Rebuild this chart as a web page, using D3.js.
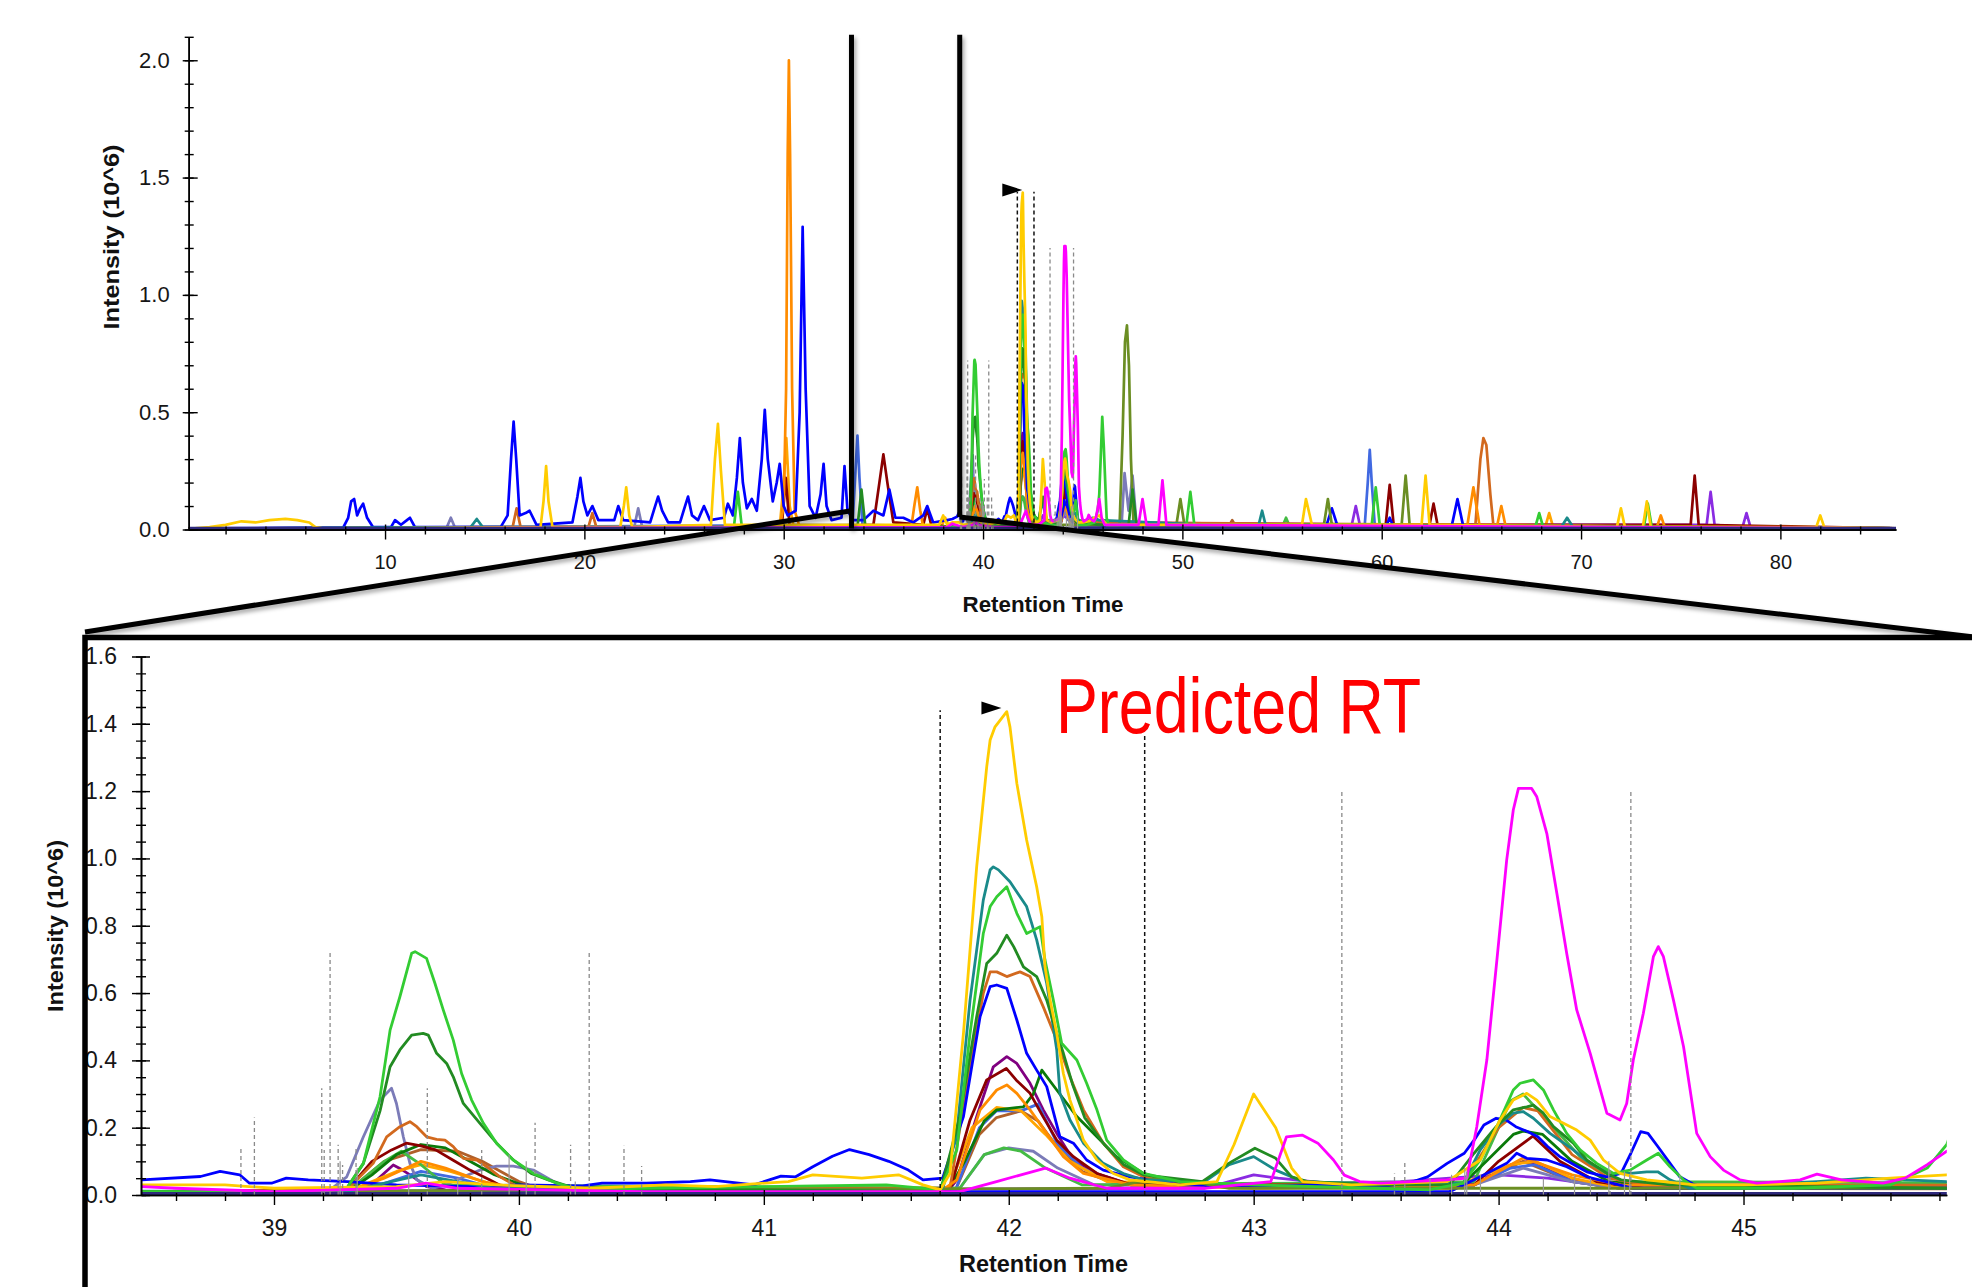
<!DOCTYPE html>
<html>
<head>
<meta charset="utf-8">
<title>Retention Time</title>
<script src="https://cdn.jsdelivr.net/npm/d3@7"></script>
<style>
  html, body { margin: 0; padding: 0; background: #ffffff; }
  svg { display: block; }
  text { font-family: "Liberation Sans", Arial, Helvetica, sans-serif; }
</style>
</head>
<body>
<svg id="chart" width="1972" height="1287"></svg>
<script>
// ---------- extracted ion chromatograms: [retention time (min), intensity (10^6)] ----------
const baselineTrace = [[0.15, 0.003], [85.8, 0.003]];

const blueTrace = [[0.15,0.005],[7.9,0.008],[8.15,0.05],[8.3,0.12],[8.45,0.13],[8.6,0.06],[8.75,0.09],[8.9,0.11],[9.1,0.05],[9.4,0.01],[10.3,0.01],[10.5,0.04],[10.8,0.02],[11.1,0.04],[11.25,0.05],[11.5,0.01],[15.8,0.01],[16.15,0.06],[16.32,0.3],[16.45,0.46],[16.58,0.3],[16.75,0.06],[17.05,0.07],[17.25,0.08],[17.6,0.02],[19.4,0.03],[19.65,0.14],[19.8,0.22],[19.95,0.12],[20.15,0.06],[20.4,0.10],[20.7,0.04],[21.5,0.04],[21.7,0.10],[21.95,0.04],[23.3,0.03],[23.55,0.1],[23.7,0.14],[23.9,0.08],[24.2,0.03],[24.8,0.03],[25.05,0.1],[25.2,0.14],[25.4,0.06],[25.7,0.04],[26.0,0.10],[26.3,0.04],[27.0,0.05],[27.2,0.11],[27.45,0.06],[27.65,0.22],[27.8,0.39],[27.95,0.2],[28.15,0.09],[28.4,0.13],[28.65,0.08],[28.9,0.3],[29.05,0.51],[29.2,0.3],[29.45,0.12],[29.65,0.2],[29.8,0.28],[30.0,0.1],[30.2,0.06],[30.6,0.08],[30.8,0.5],[30.95,1.29],[31.1,0.6],[31.3,0.1],[31.6,0.05],[31.85,0.15],[32.0,0.28],[32.15,0.1],[32.4,0.04],[32.9,0.05],[33.05,0.27],[33.2,0.08],[33.5,0.04],[34.0,0.04],[34.5,0.08],[35.0,0.06],[35.3,0.17],[35.6,0.05],[36.0,0.05],[36.5,0.03],[37.0,0.06],[37.2,0.10],[37.5,0.03],[38.2,0.04],
  [38.46,0.045],[38.7,0.055],[38.78,0.07],[38.86,0.06],[38.9,0.035],[38.99,0.035],[39.05,0.05],[39.14,0.045],[39.3,0.04],[39.5,0.03],[39.8,0.025],[40.0,0.03],[40.26,0.027],[40.34,0.035],[40.52,0.035],[40.7,0.04],[40.78,0.045],[40.96,0.03],[41.07,0.056],[41.13,0.054],[41.2,0.084],[41.28,0.115],[41.35,0.135],[41.43,0.12],[41.51,0.10],[41.59,0.074],[41.65,0.045],[41.73,0.05],[41.815,0.233],[41.883,0.53],[41.924,0.619],[41.951,0.624],[41.992,0.614],[42.033,0.52],[42.073,0.421],[42.114,0.371],[42.155,0.322],[42.209,0.173],[42.264,0.154],[42.318,0.104],[42.386,0.074],[42.495,0.054],[42.7,0.03],[43.0,0.025],[43.3,0.03],[43.52,0.025],[43.63,0.035],[43.71,0.054],[43.79,0.094],[43.86,0.124],[43.9,0.163],[43.94,0.208],[43.99,0.228],[44.03,0.223],[44.07,0.203],[44.12,0.188],[44.16,0.173],[44.2,0.144],[44.25,0.114],[44.31,0.089],[44.36,0.069],[44.44,0.054],[44.5,0.064],[44.54,0.124],[44.58,0.188],[44.61,0.183],[44.65,0.144],[44.7,0.094],[44.74,0.054],[44.8,0.03],[44.88,0.02],[45.83,0.02],
  [46.5,0.01],[57.2,0.01],[57.5,0.09],[57.8,0.01],[60.2,0.01],[60.4,0.05],[60.6,0.01],[63.5,0.01],[63.8,0.13],[64.1,0.01],[85.8,0.005]];

const blue2Trace = [[0.15,0.003],[43.8,0.01],[43.925,0.054],[44.033,0.094],[44.074,0.124],[44.115,0.109],[44.197,0.104],[44.278,0.084],[44.36,0.054],[44.55,0.02],[85.8,0.003]];

const goldTrace = [[0.15,0.003],[1.2,0.01],[2.0,0.02],[2.8,0.035],[3.5,0.03],[4.2,0.04],[5.0,0.045],[5.6,0.04],[6.2,0.03],[6.5,0.01],[7.0,0.003],[17.8,0.01],[17.95,0.12],[18.08,0.27],[18.2,0.12],[18.4,0.01],[21.8,0.01],[21.98,0.1],[22.1,0.18],[22.25,0.06],[22.4,0.01],[26.35,0.02],[26.55,0.3],[26.7,0.45],[26.85,0.25],[27.05,0.02],[36.0,0.02],[37.8,0.02],[38.0,0.06],[38.2,0.02],
  [38.46,0.03],[38.8,0.03],[39.0,0.02],[39.5,0.025],[39.7,0.04],[39.9,0.03],[40.3,0.02],[40.6,0.03],[40.8,0.025],[41.1,0.04],[41.2,0.06],[41.4,0.05],[41.55,0.06],[41.65,0.03],[41.72,0.015],[41.76,0.064],[41.815,0.48],[41.869,0.975],[41.91,1.272],[41.924,1.352],[41.944,1.391],[41.992,1.436],[42.005,1.391],[42.033,1.223],[42.073,1.055],[42.114,0.916],[42.135,0.827],[42.148,0.678],[42.169,0.579],[42.196,0.48],[42.223,0.361],[42.25,0.282],[42.278,0.223],[42.305,0.163],[42.36,0.104],[42.427,0.064],[42.495,0.045],[42.7,0.03],[42.85,0.04],[42.92,0.15],[43.0,0.30],[43.09,0.2],[43.155,0.08],[43.2,0.04],[43.4,0.03],[43.6,0.035],[43.79,0.04],[43.925,0.104],[44.006,0.223],[44.06,0.282],[44.115,0.302],[44.156,0.282],[44.21,0.233],[44.265,0.213],[44.319,0.193],[44.374,0.163],[44.428,0.104],[44.496,0.064],[44.605,0.045],[44.8,0.03],[45.0,0.03],[45.3,0.035],[45.6,0.05],[45.83,0.06],
  [46.2,0.02],[48.0,0.02],[56.0,0.02],[56.2,0.13],[56.5,0.02],[62.0,0.02],[62.2,0.23],[62.4,0.02],[71.8,0.01],[72.0,0.09],[72.2,0.01],[73.1,0.01],[73.3,0.12],[73.5,0.01],[81.8,0.01],[82.0,0.06],[82.2,0.01],[85.8,0.005]];

const darkorangeTrace = [[0.15,0.003],[29.8,0.01],[30.0,0.1],[30.12,0.6],[30.2,1.6],[30.26,2.0],[30.32,1.6],[30.42,0.6],[30.55,0.08],[30.8,0.01],[36.4,0.01],[36.55,0.1],[36.7,0.18],[36.85,0.08],[37.0,0.01],
  [38.46,0.01],[39.3,0.01],[39.45,0.05],[39.6,0.1],[39.7,0.08],[39.85,0.04],[40.0,0.02],[41.72,0.01],[41.788,0.045],[41.883,0.253],[41.951,0.312],[41.992,0.327],[42.033,0.302],[42.087,0.253],[42.155,0.183],[42.223,0.114],[42.305,0.064],[42.5,0.03],[43.0,0.02],[43.9,0.03],[44.1,0.11],[44.3,0.06],[44.5,0.03],[45.83,0.02],
  [46.0,0.02],[64.3,0.02],[64.6,0.18],[64.9,0.02],[65.8,0.02],[66.0,0.10],[66.2,0.02],[73.8,0.01],[74.0,0.06],[74.2,0.01],[85.8,0.005]];

const orangeTrace = [[0.15,0.003],[29.8,0.01],[30.0,0.2],[30.13,0.39],[30.3,0.1],[30.5,0.01],[37.9,0.01],[38.1,0.05],[38.3,0.01],
  [38.46,0.01],[39.3,0.01],[39.5,0.07],[39.6,0.09],[39.72,0.07],[39.9,0.03],[40.1,0.015],[41.75,0.01],[41.85,0.2],[41.95,0.26],[42.05,0.25],[42.15,0.18],[42.25,0.1],[42.4,0.04],[43.8,0.02],[44.05,0.09],[44.15,0.1],[44.3,0.05],[44.5,0.02],[45.83,0.02],
  [68.2,0.01],[68.4,0.07],[68.6,0.01],[85.8,0.005]];

const magentaTrace = [[0.15,0.003],[38.2,0.01],[38.46,0.025],[38.6,0.02],[39.0,0.01],[39.5,0.02],[39.62,0.035],[39.75,0.02],[40.5,0.01],[41.8,0.01],[41.95,0.04],[42.05,0.06],[42.15,0.08],[42.25,0.05],[42.4,0.02],[42.8,0.02],[43.07,0.04],[43.134,0.173],[43.198,0.178],[43.262,0.154],[43.326,0.104],[43.37,0.059],[43.433,0.04],[43.52,0.035],[43.652,0.04],[43.788,0.045],[43.87,0.05],[43.911,0.203],[43.952,0.401],[43.993,0.698],[44.033,0.995],[44.06,1.144],[44.081,1.208],[44.135,1.208],[44.156,1.183],[44.197,1.074],[44.238,0.896],[44.278,0.718],[44.319,0.55],[44.374,0.421],[44.442,0.243],[44.496,0.223],[44.523,0.272],[44.55,0.401],[44.591,0.54],[44.632,0.708],[44.652,0.738],[44.673,0.708],[44.714,0.579],[44.755,0.441],[44.809,0.183],[44.864,0.114],[44.918,0.074],[44.986,0.045],[45.054,0.035],[45.149,0.04],[45.231,0.045],[45.3,0.062],[45.4,0.045],[45.57,0.035],[45.66,0.05],[45.75,0.09],[45.83,0.13],[45.95,0.05],[46.1,0.02],[47.8,0.02],[48.0,0.13],[48.2,0.02],[48.8,0.02],[49.0,0.21],[49.2,0.02],[85.8,0.005]];

const limeTrace = [[0.15,0.003],[27.5,0.01],[27.7,0.16],[27.9,0.01],[38.46,0.01],[39.2,0.01],[39.297,0.02],[39.365,0.094],[39.433,0.292],[39.474,0.49],[39.514,0.589],[39.562,0.718],[39.576,0.723],[39.623,0.703],[39.657,0.629],[39.691,0.55],[39.732,0.46],[39.766,0.361],[39.807,0.282],[39.855,0.213],[39.909,0.154],[39.977,0.104],[40.059,0.064],[40.154,0.035],[40.25,0.015],[40.5,0.02],[41.0,0.025],[41.5,0.03],[41.72,0.015],[41.788,0.134],[41.842,0.48],[41.896,0.777],[41.924,0.857],[41.951,0.886],[41.992,0.916],[42.033,0.837],[42.073,0.777],[42.128,0.797],[42.148,0.698],[42.182,0.579],[42.216,0.451],[42.278,0.401],[42.318,0.332],[42.36,0.253],[42.4,0.163],[42.468,0.104],[42.55,0.064],[42.7,0.04],[43.0,0.03],[43.5,0.02],[43.714,0.015],[43.856,0.035],[43.925,0.104],[43.993,0.203],[44.06,0.312],[44.088,0.332],[44.142,0.342],[44.183,0.312],[44.224,0.253],[44.278,0.183],[44.333,0.134],[44.401,0.094],[44.469,0.064],[44.537,0.074],[44.605,0.104],[44.652,0.124],[44.7,0.084],[44.755,0.045],[44.809,0.02],[45.2,0.02],[45.6,0.03],[45.75,0.08],[45.83,0.15],[45.9,0.3],[45.98,0.48],[46.06,0.35],[46.2,0.05],[46.3,0.02],[50.2,0.02],[50.4,0.16],[50.6,0.02],[59.5,0.02],[59.7,0.18],[59.9,0.02],[67.7,0.01],[67.9,0.07],[68.1,0.01],[73.15,0.01],[73.35,0.11],[73.55,0.01],[85.8,0.005]];

const greenTrace = [[0.15,0.003],[33.7,0.01],[33.9,0.17],[34.1,0.01],[38.46,0.01],[39.2,0.01],[39.297,0.02],[39.365,0.094],[39.433,0.25],[39.474,0.381],[39.514,0.431],[39.562,0.475],[39.609,0.48],[39.63,0.475],[39.664,0.421],[39.705,0.391],[39.732,0.351],[39.773,0.272],[39.841,0.213],[39.909,0.154],[39.977,0.104],[40.05,0.064],[40.12,0.045],[40.23,0.02],[41.72,0.01],[41.8,0.233],[41.869,0.53],[41.91,0.688],[41.951,0.718],[41.992,0.772],[42.02,0.738],[42.06,0.678],[42.114,0.649],[42.155,0.579],[42.196,0.48],[42.223,0.421],[42.26,0.33],[42.31,0.23],[42.39,0.15],[42.47,0.09],[42.55,0.06],[42.79,0.04],[42.898,0.094],[43.005,0.139],[43.09,0.109],[43.155,0.054],[43.22,0.04],[43.5,0.03],[43.8,0.03],[43.9,0.124],[43.99,0.203],[44.06,0.253],[44.115,0.262],[44.142,0.267],[44.183,0.243],[44.224,0.203],[44.305,0.154],[44.36,0.104],[44.442,0.064],[44.5,0.045],[44.7,0.03],[45.83,0.02],[47.3,0.02],[47.5,0.17],[47.7,0.02],[85.8,0.005]];

const green2Trace = [[0.15,0.003],[38.46,0.01],[39.3,0.01],[39.4,0.06],[39.5,0.12],[39.6,0.15],[39.7,0.14],[39.8,0.1],[39.9,0.06],[40.05,0.02],[41.75,0.01],[41.82,0.1],[41.9,0.22],[41.951,0.253],[42.06,0.262],[42.1,0.3],[42.135,0.371],[42.196,0.312],[42.278,0.233],[42.36,0.173],[42.44,0.114],[42.55,0.064],[42.7,0.03],[43.85,0.03],[43.95,0.1],[44.06,0.18],[44.1,0.19],[44.18,0.18],[44.3,0.1],[44.45,0.04],[44.6,0.03],[45.83,0.02],[85.8,0.005]];

const tealTrace = [[0.15,0.003],[14.3,0.01],[14.6,0.045],[14.9,0.01],[38.46,0.01],[39.3,0.01],[39.6,0.06],[39.9,0.02],[41.72,0.01],[41.733,0.025],[41.788,0.183],[41.842,0.579],[41.896,0.876],[41.924,0.966],[41.937,0.975],[41.958,0.966],[42.005,0.931],[42.073,0.857],[42.114,0.758],[42.155,0.629],[42.196,0.431],[42.209,0.302],[42.25,0.223],[42.305,0.154],[42.386,0.094],[42.468,0.064],[42.55,0.045],[42.8,0.04],[42.9,0.09],[43.0,0.114],[43.09,0.074],[43.2,0.04],[43.6,0.03],[43.856,0.035],[43.925,0.134],[44.006,0.213],[44.06,0.243],[44.1,0.248],[44.142,0.228],[44.21,0.183],[44.305,0.134],[44.374,0.094],[44.455,0.064],[44.537,0.064],[44.605,0.069],[44.65,0.069],[44.7,0.045],[44.78,0.02],[45.3,0.04],[45.5,0.05],[45.83,0.04],[53.8,0.01],[54.0,0.08],[54.2,0.01],[69.0,0.01],[69.3,0.05],[69.6,0.01],[85.8,0.005]];

const oliveTrace = [[0.15,0.003],[38.46,0.01],[42.4,0.02],[42.6,0.05],[42.75,0.04],[42.9,0.02],[45.83,0.02],[46.85,0.02],[47.0,0.4],[47.12,0.8],[47.22,0.87],[47.32,0.7],[47.42,0.3],[47.55,0.02],[49.7,0.02],[49.9,0.13],[50.1,0.02],[57.1,0.02],[57.3,0.13],[57.5,0.02],[61.0,0.02],[61.2,0.23],[61.4,0.02],[85.8,0.005]];

const maroonTrace = [[0.15,0.003],[29.9,0.01],[30.1,0.22],[30.3,0.01],[34.5,0.02],[34.8,0.2],[35.0,0.32],[35.2,0.2],[35.5,0.03],[37.0,0.02],[37.2,0.09],[37.4,0.02],[38.46,0.01],[39.3,0.015],[39.4,0.1],[39.48,0.134],[39.54,0.154],[39.6,0.146],[39.66,0.134],[39.73,0.104],[39.8,0.074],[39.88,0.045],[39.96,0.015],[41.76,0.015],[41.842,0.223],[41.91,0.342],[41.99,0.376],[42.03,0.342],[42.087,0.302],[42.14,0.233],[42.196,0.163],[42.264,0.114],[42.36,0.064],[42.5,0.03],[43.9,0.03],[44.0,0.1],[44.14,0.175],[44.25,0.1],[44.4,0.04],[44.6,0.02],[60.2,0.02],[60.4,0.19],[60.6,0.02],[62.4,0.02],[62.6,0.11],[62.8,0.02],[75.5,0.02],[75.7,0.23],[75.9,0.02],[85.8,0.005]];

const chocolateTrace = [[0.15,0.003],[16.4,0.01],[16.6,0.09],[16.8,0.01],[20.2,0.01],[20.4,0.07],[20.6,0.01],[38.46,0.01],[39.297,0.015],[39.405,0.094],[39.46,0.173],[39.514,0.203],[39.555,0.218],[39.583,0.203],[39.623,0.173],[39.664,0.165],[39.698,0.163],[39.732,0.144],[39.773,0.109],[39.828,0.104],[39.869,0.084],[39.923,0.054],[40.005,0.02],[41.76,0.02],[41.842,0.381],[41.896,0.599],[41.924,0.663],[41.951,0.663],[41.992,0.649],[42.046,0.663],[42.087,0.649],[42.141,0.559],[42.196,0.46],[42.25,0.351],[42.305,0.253],[42.386,0.154],[42.468,0.084],[42.55,0.054],[42.7,0.03],[43.85,0.03],[44.0,0.2],[44.1,0.26],[44.16,0.25],[44.3,0.12],[44.45,0.05],[44.6,0.03],[64.7,0.02],[64.95,0.3],[65.1,0.39],[65.25,0.36],[65.45,0.15],[65.6,0.02],[85.8,0.005]];

const royalTrace = [[0.15,0.003],[33.45,0.02],[33.6,0.25],[33.7,0.40],[33.8,0.22],[33.95,0.02],[39.35,0.01],[39.6,0.07],[39.75,0.05],[39.9,0.02],[41.78,0.01],[41.88,0.2],[41.95,0.25],[42.05,0.25],[42.12,0.27],[42.2,0.15],[42.3,0.08],[42.45,0.03],[43.9,0.03],[44.05,0.08],[44.15,0.09],[44.3,0.04],[44.5,0.02],[59.15,0.02],[59.3,0.2],[59.4,0.34],[59.5,0.2],[59.65,0.02],[85.8,0.005]];

const slateTrace = [[0.15,0.003],[13.1,0.01],[13.3,0.05],[13.5,0.01],[22.5,0.01],[22.7,0.09],[22.9,0.01],[38.46,0.01],[39.229,0.015],[39.297,0.054],[39.365,0.173],[39.433,0.282],[39.48,0.317],[39.5,0.272],[39.528,0.173],[39.555,0.094],[39.583,0.045],[39.65,0.02],[39.7,0.03],[39.773,0.054],[39.841,0.074],[39.909,0.086],[39.977,0.086],[40.059,0.074],[40.154,0.035],[40.209,0.02],[41.8,0.02],[41.9,0.12],[42.0,0.14],[42.1,0.13],[42.2,0.08],[42.35,0.03],[43.9,0.03],[44.1,0.08],[44.3,0.04],[44.5,0.02],[46.95,0.02],[47.1,0.24],[47.3,0.08],[47.5,0.23],[47.7,0.02],[85.8,0.005]];

const purpleTrace = [[0.15,0.003],[38.46,0.01],[39.3,0.01],[39.405,0.035],[39.487,0.089],[39.514,0.079],[39.568,0.054],[39.623,0.025],[39.7,0.015],[41.75,0.01],[41.788,0.045],[41.869,0.233],[41.937,0.381],[41.992,0.411],[42.033,0.391],[42.087,0.332],[42.141,0.253],[42.196,0.183],[42.264,0.104],[42.36,0.064],[42.5,0.03],[43.9,0.03],[44.05,0.09],[44.12,0.1],[44.25,0.06],[44.4,0.03],[85.8,0.005]];

const violetTrace = [[0.15,0.003],[38.46,0.01],[42.8,0.02],[42.9,0.04],[43.0,0.06],[43.1,0.05],[43.3,0.035],[43.6,0.04],[43.8,0.05],[44.0,0.06],[44.2,0.05],[44.5,0.02],[58.5,0.02],[58.7,0.10],[58.9,0.02],[76.3,0.02],[76.5,0.16],[76.7,0.02],[78.1,0.01],[78.3,0.07],[78.5,0.01],[85.8,0.005]];

const siennaTrace = [[0.15,0.003],[38.46,0.01],[39.3,0.01],[39.45,0.1],[39.6,0.135],[39.75,0.13],[39.85,0.1],[40.0,0.04],[40.1,0.015],[41.78,0.01],[41.88,0.18],[41.95,0.23],[42.05,0.25],[42.12,0.22],[42.2,0.14],[42.3,0.07],[42.45,0.03],[43.9,0.03],[44.1,0.1],[44.3,0.04],[44.5,0.02],[52.3,0.01],[52.5,0.04],[52.7,0.01],[85.8,0.005]];

const lime2Trace = [[0.15,0.003],[38.46,0.01],[39.3,0.01],[39.45,0.1],[39.52,0.13],[39.6,0.09],[39.7,0.03],[41.8,0.02],[41.9,0.12],[41.98,0.14],[42.05,0.13],[42.15,0.08],[42.3,0.03],[43.9,0.04],[44.05,0.28],[44.1,0.30],[44.2,0.22],[44.35,0.1],[44.5,0.04],[55.0,0.01],[55.2,0.05],[55.4,0.01],[85.8,0.005]];

// ---------- scan / integration markers (retention time, height) ----------
const boundaryRT = [41.72, 42.555];
const boundaryTop = [1.44, 1.44];
const tallMarkRT = [39.229, 40.287, 43.36, 44.54];
const tallMarkTop = [0.72, 0.72, 1.2, 1.2];
const dashMarkRT = [38.865, 38.92, 39.195, 39.205, 39.262, 39.28, 39.335, 39.626, 39.848, 40.066, 40.211, 40.429, 40.501, 43.575, 43.617, 44.455];
const dashMarkTop = [0.137, 0.23, 0.317, 0.134, 0.149, 0.089, 0.144, 0.317, 0.134, 0.215, 0.149, 0.146, 0.086, 0.064, 0.104, 0.084];
const solidMarkRT = [39.27, 39.34, 39.55, 39.75, 39.96, 40.03, 40.23, 43.72, 43.808, 43.862, 43.87, 43.926, 44.183, 44.31, 44.375, 44.45, 44.514, 44.535, 44.74];
const solidMarkTop = [0.1, 0.08, 0.06, 0.05, 0.12, 0.1, 0.04, 0.05, 0.06, 0.08, 0.07, 0.06, 0.05, 0.06, 0.05, 0.1, 0.07, 0.06, 0.06];

const apexRT = 41.97;
const apexIntensity = 1.447;
const predictedRT = 42.652;
const predictedLineTop = 1.345;
const windowRT = [33.4, 38.83];
const windowLinkTop = [0.08, 0.053];

const overviewXTicks = [10, 20, 30, 40, 50, 60, 70, 80];
const overviewYTicks = [0, 0.5, 1.0, 1.5, 2.0];
const detailXTicks = [39, 40, 41, 42, 43, 44, 45];
const detailYTicks = [0, 0.2, 0.4, 0.6, 0.8, 1.0, 1.2, 1.4, 1.6];

const traces = [
  { points: baselineTrace, color: '#2f2a7c', under: true },
  { points: violetTrace, color: '#8a2be2' },
  { points: purpleTrace, color: '#800080' },
  { points: siennaTrace, color: '#b0602a' },
  { points: royalTrace, color: '#4169e1' },
  { points: slateTrace, color: '#7b7bb8' },
  { points: orangeTrace, color: '#ffa500' },
  { points: lime2Trace, color: '#44bb44' },
  { points: green2Trace, color: '#0a7a0a' },
  { points: maroonTrace, color: '#8b0000' },
  { points: chocolateTrace, color: '#d2691e' },
  { points: darkorangeTrace, color: '#ff8c00' },
  { points: blue2Trace, color: '#0000ff' },
  { points: blueTrace, color: '#0000ff' },
  { points: oliveTrace, color: '#6b8e23' },
  { points: tealTrace, color: '#1a8a8a' },
  { points: greenTrace, color: '#228b22' },
  { points: limeTrace, color: '#33cc33' },
  { points: goldTrace, color: '#ffcc00' },
  { points: magentaTrace, color: '#ff00ff' }
];

// ---------- layout ----------
const svg = d3.select('#chart');
const W = 1972, H = 1287;
svg.append('rect').attr('width', W).attr('height', H).attr('fill', '#fff');

const topX = d3.scaleLinear().domain([0.15, 85.8]).range([188.7, 1896]);
const topY = d3.scaleLinear().domain([0, 2.1]).range([529.5, 36.8]);
const detX = d3.scaleLinear().domain([38.457, 45.83]).range([141, 1946.8]);
const detY = d3.scaleLinear().domain([0, 1.6]).range([1195, 656.5]);

const defs = svg.append('defs');
const shadow = defs.append('filter').attr('id', 'shade').attr('x', '-20%').attr('y', '-20%').attr('width', '140%').attr('height', '140%');
shadow.append('feDropShadow').attr('dx', 2).attr('dy', 3).attr('stdDeviation', 2).attr('flood-color', '#000').attr('flood-opacity', 0.35);

function clipRect(id, x, y, w, h) {
  defs.append('clipPath').attr('id', id).append('rect').attr('x', x).attr('y', y).attr('width', w).attr('height', h);
}
clipRect('clipTop', topX.range()[0], 20, topX.range()[1] - topX.range()[0], topY(0) - 20 + 2);
clipRect('clipDet', detX.range()[0], 640, detX.range()[1] - detX.range()[0], detY(0) - 640 + 2);
clipRect('clipPanel', 85, 637.5, W - 85, H);

function drawTraces(g, x, y, width) {
  const line = d3.line().x(d => x(d[0])).y(d => y(d[1])).curve(d3.curveLinear);
  traces.filter(t => !t.under).forEach(t => {
    g.append('path').attr('d', line(t.points)).attr('fill', 'none')
      .attr('stroke', t.color).attr('stroke-width', width)
      .attr('stroke-linejoin', 'round').attr('stroke-linecap', 'round');
  });
  traces.filter(t => t.under).forEach(t => {
    g.append('path').attr('d', line(t.points)).attr('fill', 'none')
      .attr('stroke', t.color).attr('stroke-width', width + 1.2);
  });
}

function drawMarks(g, x, y) {
  const draw = (rts, tops, stroke, dash, w) => {
    g.selectAll(null).data(d3.zip(rts, tops)).join('line')
      .attr('x1', d => x(d[0])).attr('x2', d => x(d[0]))
      .attr('y1', y(0)).attr('y2', d => y(d[1]))
      .attr('stroke', stroke).attr('stroke-width', w)
      .attr('stroke-dasharray', dash);
  };
  draw(solidMarkRT, solidMarkTop, '#9a9a9a', null, 1.2);
  draw(dashMarkRT, dashMarkTop, '#8a8a8a', '4,3', 1.3);
  draw(tallMarkRT, tallMarkTop, '#8a8a8a', '4,3', 1.3);
  draw(boundaryRT, boundaryTop, '#111', '4,3', 1.5);
}

function drawApex(g, x, y) {
  const tx = x(apexRT), ty = y(apexIntensity);
  g.append('path').attr('d', `M${tx},${ty} L${tx - 20},${ty - 6.5} L${tx - 20},${ty + 6.5} Z`).attr('fill', '#000');
}

function styleAxis(g, size) {
  g.attr('font-size', null).attr('font-family', null);
  g.selectAll('.tick text').attr('font-size', size).attr('fill', '#161616');
  g.selectAll('.tick line').attr('stroke', '#000').attr('stroke-width', 1.4);
  g.select('.domain').attr('stroke', '#000').attr('stroke-width', 1.6);
}

// ================= overview chart =================
const gTop = svg.append('g');
const gTopPlot = gTop.append('g').attr('clip-path', 'url(#clipTop)');
drawTraces(gTopPlot, topX, topY, 2.7);
drawMarks(gTopPlot, topX, topY);
drawApex(gTop, topX, topY);

// y axis
const tyMinor = gTop.append('g').attr('transform', `translate(${topX.range()[0]},0)`)
  .call(d3.axisLeft(topY).tickValues(d3.range(0, 22).map(i => i / 10)).tickFormat('').tickSizeInner(4).tickSizeOuter(0));
tyMinor.selectAll('.tick line').attr('x1', 5);
styleAxis(tyMinor, 0);
const tyMajor = gTop.append('g').attr('transform', `translate(${topX.range()[0]},0)`)
  .call(d3.axisLeft(topY).tickValues(overviewYTicks).tickFormat(d3.format('.1f')).tickSizeInner(6).tickSizeOuter(0).tickPadding(13));
tyMajor.selectAll('.tick line').attr('x1', 9);
styleAxis(tyMajor, 22);

// x axis
const txMinor = gTop.append('g').attr('transform', `translate(0,${topY(0)})`)
  .call(d3.axisBottom(topX).tickValues(d3.range(1, 43).map(i => i * 2).filter(v => v % 10 !== 0)).tickFormat('').tickSizeInner(5).tickSizeOuter(0));
txMinor.selectAll('.tick line').attr('y1', -3);
styleAxis(txMinor, 0);
const txMajor = gTop.append('g').attr('transform', `translate(0,${topY(0)})`)
  .call(d3.axisBottom(topX).tickValues(overviewXTicks).tickFormat(d3.format('d')).tickSizeInner(10).tickSizeOuter(0).tickPadding(15));
txMajor.selectAll('.tick line').attr('y1', -5);
styleAxis(txMajor, 20);

gTop.append('text').attr('x', 1043).attr('y', 612).attr('text-anchor', 'middle')
  .attr('font-size', 22).attr('font-weight', 'bold').attr('fill', '#111')
  .attr('textLength', 161).attr('lengthAdjust', 'spacingAndGlyphs').text('Retention Time');
gTop.append('text').attr('transform', 'translate(119,237) rotate(-90)').attr('text-anchor', 'middle')
  .attr('font-size', 22).attr('font-weight', 'bold').attr('fill', '#111')
  .attr('textLength', 185).attr('lengthAdjust', 'spacingAndGlyphs').text('Intensity (10^6)');

// ================= zoom connectors =================
const gLink = svg.append('g').attr('filter', 'url(#shade)');
const wx0 = topX(windowRT[0]), wx1 = topX(windowRT[1]);
gLink.append('line').attr('x1', wx0).attr('x2', wx0).attr('y1', topY(2.1) - 2).attr('y2', topY(0) - 1)
  .attr('stroke', '#000').attr('stroke-width', 5);
gLink.append('line').attr('x1', wx1).attr('x2', wx1).attr('y1', topY(2.1) - 2).attr('y2', topY(windowLinkTop[1]))
  .attr('stroke', '#000').attr('stroke-width', 5);
gLink.append('line').attr('x1', wx0).attr('y1', topY(windowLinkTop[0])).attr('x2', 85).attr('y2', 632)
  .attr('stroke', '#000').attr('stroke-width', 5);
gLink.append('line').attr('x1', wx1).attr('y1', topY(windowLinkTop[1])).attr('x2', W + 2).attr('y2', 637)
  .attr('stroke', '#000').attr('stroke-width', 5);

// ================= detail chart =================
const gDet = svg.append('g').attr('clip-path', 'url(#clipPanel)');
gDet.append('rect').attr('x', 85).attr('y', 637.5).attr('width', W).attr('height', H).attr('fill', '#fff');
const gDetPlot = gDet.append('g').attr('clip-path', 'url(#clipDet)');
drawTraces(gDetPlot, detX, detY, 2.8);
drawMarks(gDetPlot, detX, detY);
drawApex(gDet, detX, detY);

const dyMinor = gDet.append('g').attr('transform', `translate(${detX.range()[0]},0)`)
  .call(d3.axisLeft(detY).tickValues(d3.range(0, 33).map(i => i * 0.05)).tickFormat('').tickSizeInner(5).tickSizeOuter(0));
dyMinor.selectAll('.tick line').attr('x1', 5);
styleAxis(dyMinor, 0);
const dyMajor = gDet.append('g').attr('transform', `translate(${detX.range()[0]},0)`)
  .call(d3.axisLeft(detY).tickValues(detailYTicks).tickFormat(d3.format('.1f')).tickSizeInner(9).tickSizeOuter(0).tickPadding(15));
dyMajor.selectAll('.tick line').attr('x1', 9);
styleAxis(dyMajor, 23);

const dxMinor = gDet.append('g').attr('transform', `translate(0,${detY(0)})`)
  .call(d3.axisBottom(detX).tickValues(d3.range(193, 230).map(i => i / 5).filter(v => Math.abs(v - Math.round(v)) > 0.01)).tickFormat('').tickSizeInner(6).tickSizeOuter(0));
dxMinor.selectAll('.tick line').attr('y1', -2);
styleAxis(dxMinor, 0);
const dxMajor = gDet.append('g').attr('transform', `translate(0,${detY(0)})`)
  .call(d3.axisBottom(detX).tickValues(detailXTicks).tickFormat(d3.format('d')).tickSizeInner(10).tickSizeOuter(0).tickPadding(15));
dxMajor.selectAll('.tick line').attr('y1', -5);
styleAxis(dxMajor, 23);

gDet.append('text').attr('x', 1043.5).attr('y', 1272).attr('text-anchor', 'middle')
  .attr('font-size', 23).attr('font-weight', 'bold').attr('fill', '#111')
  .attr('textLength', 169).attr('lengthAdjust', 'spacingAndGlyphs').text('Retention Time');

// panel frame
svg.append('rect').attr('x', 85).attr('y', 637.5).attr('width', W).attr('height', H)
  .attr('fill', 'none').attr('stroke', '#000').attr('stroke-width', 5.5);

svg.append('text').attr('transform', 'translate(63,926) rotate(-90)').attr('text-anchor', 'middle')
  .attr('font-size', 22).attr('font-weight', 'bold').attr('fill', '#111')
  .attr('textLength', 172).attr('lengthAdjust', 'spacingAndGlyphs').text('Intensity (10^6)');

// predicted retention time annotation
const label = svg.append('g');
label.append('rect').attr('x', 1050).attr('y', 676).attr('width', 378).attr('height', 58).attr('fill', '#fff');
label.append('text').attr('x', 1056).attr('y', 733).attr('font-size', 78).attr('fill', '#ff0000')
  .attr('textLength', 365).attr('lengthAdjust', 'spacingAndGlyphs').text('Predicted RT');
svg.append('line').attr('x1', detX(predictedRT)).attr('x2', detX(predictedRT))
  .attr('y1', detY(predictedLineTop)).attr('y2', detY(0) + 71)
  .attr('stroke', '#ff2200').attr('stroke-width', 7).attr('filter', 'url(#shade)');
</script>
</body>
</html>
